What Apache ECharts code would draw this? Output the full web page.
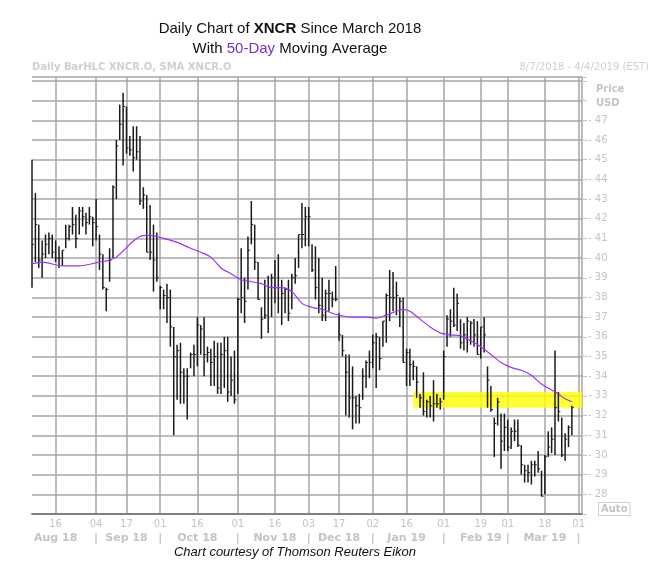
<!DOCTYPE html>
<html>
<head>
<meta charset="UTF-8">
<style>html,body{margin:0;padding:0;background:#fff}#main{width:655px;height:588px}</style>
<script src="https://cdn.jsdelivr.net/npm/echarts@6/dist/echarts.min.js"></script>
</head>
<body>
<div id="main"></div>
<script>
// daily high / low / close, one per trading day from 2018-08-07
var highs = [45.0,43.3,41.7,40.9,41.2,41.3,41.2,40.9,40.6,40.4,41.7,41.7,42.6,42.2,42.6,42.6,42.3,42.6,42.1,43.0,
  41.2,40.2,38.5,40.5,43.7,46.0,47.8,48.4,47.7,46.2,46.7,46.7,46.2,43.6,43.2,42.7,41.7,41.3,38.6,38.4,
  38.7,38.4,36.5,35.6,35.7,34.4,34.4,35.2,35.6,37.0,36.6,37.0,35.5,35.4,35.8,35.7,35.7,36.0,36.0,35.0,
  35.3,38.0,40.5,39.0,41.1,42.9,41.7,39.8,37.5,38.9,39.1,39.2,39.9,40.2,38.9,38.5,38.9,39.2,40.0,41.2,
  42.8,42.6,42.6,40.7,40.6,40.0,39.0,38.4,38.9,38.3,39.6,37.2,36.1,35.1,35.1,34.5,33.0,33.1,34.4,34.8,
  35.3,36.1,36.2,36.0,36.8,38.2,39.4,39.3,38.8,38.0,38.0,35.4,35.4,34.8,34.5,33.1,34.2,32.8,33.0,33.8,
  33.1,32.9,35.3,37.1,37.4,38.5,38.2,36.9,36.7,37.0,36.8,36.9,36.8,36.5,37.0,34.5,33.5,31.9,32.9,32.1,
  32.1,31.8,31.4,31.8,31.8,30.5,29.5,29.5,29.7,29.7,30.2,29.2,30.0,31.2,31.4,35.3,33.2,31.9,31.1,31.5,32.5];
var lows = [38.5,39.8,39.5,39.0,40.0,40.2,40.0,39.8,39.5,39.6,40.5,40.9,41.2,40.5,41.2,41.6,41.2,41.7,40.6,40.9,
  39.4,38.4,37.3,38.8,40.0,43.0,46.0,44.7,45.3,45.2,44.4,45.0,42.7,42.5,40.3,39.9,38.3,38.8,37.4,37.4,
  36.7,35.5,31.0,32.8,32.6,32.6,31.8,34.4,34.0,34.5,35.1,34.0,34.7,33.5,33.5,33.1,33.1,33.4,32.7,33.0,
  32.6,33.1,37.2,36.7,38.4,40.7,39.4,37.9,35.9,36.9,36.2,37.0,37.7,37.2,36.6,37.2,36.8,37.4,38.7,39.5,
  40.5,40.6,40.6,39.3,37.9,37.2,36.8,36.8,37.3,37.5,37.8,35.8,35.0,32.0,31.9,31.3,31.6,31.6,32.8,33.4,
  33.9,34.4,33.4,34.3,35.5,35.7,36.8,37.3,37.1,36.5,34.7,33.5,33.5,33.8,32.9,32.4,32.0,31.9,31.9,31.7,
  32.4,32.3,32.8,35.5,36.0,36.5,36.3,35.4,35.3,35.2,35.6,35.5,35.1,34.9,35.2,32.4,32.2,29.9,31.5,29.3,
  30.2,30.2,30.3,30.7,30.4,29.0,28.6,28.6,28.5,28.9,29.1,27.9,28.0,29.9,30.1,30.0,31.7,29.9,29.7,30.4,31.0];
var closes = [40.7,41.7,39.9,40.2,40.7,41.0,40.3,40.0,40.0,40.4,41.0,41.6,41.7,41.0,42.4,42.1,41.8,42.1,41.8,41.6,
  40.2,38.5,38.4,39.9,43.6,45.7,46.8,47.7,45.6,45.5,45.1,45.4,42.9,43.2,40.3,40.3,39.9,39.0,38.5,38.1,
  38.0,36.5,35.0,35.3,34.2,34.0,34.0,35.1,35.1,36.6,36.4,35.1,35.2,34.7,35.0,33.4,35.1,35.3,33.2,33.8,
  32.8,37.9,38.0,37.8,40.4,41.7,39.8,37.9,36.9,37.1,38.5,39.0,38.5,38.5,38.2,38.4,37.2,39.0,39.1,41.2,
  41.2,42.1,42.1,39.4,38.5,37.6,37.1,38.2,38.2,37.9,37.9,36.1,35.3,34.2,32.9,32.9,32.5,32.4,34.0,34.7,
  34.7,35.7,36.0,34.9,36.8,38.1,38.0,38.0,38.1,37.8,34.7,35.2,34.6,34.5,33.7,32.9,32.2,32.7,32.5,32.6,
  32.6,32.7,35.0,36.9,36.8,36.6,37.7,35.7,36.1,36.8,36.7,36.1,35.1,36.5,36.1,33.8,32.3,31.6,32.7,30.7,
  31.4,30.4,31.2,31.2,30.5,29.5,29.2,29.1,29.5,29.5,29.3,27.9,29.9,30.4,30.8,32.4,32.2,30.0,30.8,31.4,32.4];
// 50-day SMA readings [bar index, value]
var sma = [[0,39.7],[3,39.8],[9,39.6],[14,39.6],[20,39.8],[23,39.9],[25,40.05],[29,40.7],[32,41.1],[35,41.15],
  [39,41.0],[43,40.8],[47,40.5],[50,40.3],[53,40.05],[56,39.5],[59,39.2],[62,38.9],[65,38.8],[68,38.7],
  [71,38.5],[74,38.5],[77,38.3],[80,37.7],[83,37.5],[86,37.4],[89,37.2],[91,37.1],[95,37.0],[99,37.0],
  [102,36.95],[105,37.1],[108,37.3],[110,37.4],[112,37.3],[115,36.9],[118,36.5],[121,36.2],[124,36.1],[127,36.05],
  [130,35.8],[133,35.5],[136,35.1],[139,34.7],[142,34.45],[145,34.3],[148,34.05],[151,33.6],[154,33.3],[156,33.1],
  [158,32.85],[160,32.7]];
var holidays = ['2018-09-03','2018-11-22','2018-12-05','2018-12-25','2019-01-01','2019-01-21','2019-02-18'];
var tickDates = ['2018-08-16','2018-09-04','2018-09-17','2018-10-01','2018-10-16','2018-11-01','2018-11-16','2018-12-03',
  '2018-12-17','2019-01-02','2019-01-16','2019-02-01','2019-02-19','2019-03-01','2019-03-18','2019-04-01'];
var tickDays = ['16','04','17','01','16','01','16','03','17','02','16','01','19','01','18','01'];
var tickMonths = ['Aug 18','|','Sep 18','|','Oct 18','|','Nov 18','|','Dec 18','|','Jan 19','|','Feb 19','|','Mar 19','|'];
var bandLow = 32.4, bandHigh = 33.2, bandStart = 113;

function pad(n){return n<10?'0'+n:''+n;}
var dates = [];
var d = new Date(Date.UTC(2018,7,7));
var end = new Date(Date.UTC(2019,3,2));
while(d <= end){
	var s = d.getUTCFullYear()+'-'+pad(d.getUTCMonth()+1)+'-'+pad(d.getUTCDate());
	var wd = d.getUTCDay();
	if(wd!=0 && wd!=6 && holidays.indexOf(s)<0) dates.push(s);
	d.setUTCDate(d.getUTCDate()+1);
}
var bars = highs.map(function(h,i){return [i,h,lows[i],closes[i]];});
var isTick = function(i){return tickDates.indexOf(dates[i])>=0;};
var grey = '#c4c4c4';
var ttl = {fontFamily:'Liberation Sans',fontSize:15,fill:'#111'};

var option = {
	animation:false,
	graphic:[
		{type:'text',x:290,y:21,style:{align:'center',text:'{n|Daily Chart of }{b|XNCR}{n| Since March 2018}',
			rich:{n:ttl,b:{fontFamily:'Liberation Sans',fontSize:15,fontWeight:'bold',fill:'#111'}}}},
		{type:'text',x:290,y:41,style:{align:'center',text:'{n|With }{p|50-Day}{n| Moving Average}',
			rich:{n:ttl,p:{fontFamily:'Liberation Sans',fontSize:15,fill:'#7b2fd0'}}}},
		{type:'text',left:32,top:62,style:{text:'Daily BarHLC XNCR.O, SMA XNCR.O',fontFamily:'DejaVu Sans',fontSize:10,fontWeight:'bold',fill:'#cfcfcf'}},
		{type:'text',right:6,top:62,style:{text:'8/7/2018 - 4/4/2019 (EST)',fontFamily:'DejaVu Sans',fontSize:10,fill:'#cfcfcf'}},
		{type:'text',left:596,top:82,style:{text:'Price\nUSD',fontFamily:'DejaVu Sans',fontSize:10,fontWeight:'bold',lineHeight:14,fill:'#c4c4c4'}},
		{type:'text',left:598,top:502,style:{text:'Auto',fontFamily:'DejaVu Sans',fontSize:10,fontWeight:'bold',fill:'#c4c4c4',backgroundColor:'#fff',borderColor:'#d0d0d0',borderWidth:1,padding:[1,2]}},
		{type:'text',x:295,y:546,style:{align:'center',text:'Chart courtesy of Thomson Reuters Eikon',fontFamily:'Liberation Sans',fontSize:13,fontStyle:'italic',fill:'#111'}}
	],
	grid:{left:32,right:73,top:77,bottom:74},
	xAxis:{
		type:'category',data:dates,boundaryGap:false,
		axisLine:{lineStyle:{color:'#808080',width:2}},
		axisTick:{show:false},
		axisLabel:{interval:function(i){return isTick(i);},color:grey,fontFamily:'DejaVu Sans',fontSize:10,margin:4,
			formatter:function(v){var k=tickDates.indexOf(v);return '{d|'+tickDays[k]+'}\n{m|'+tickMonths[k]+'}';},
			rich:{d:{color:grey,fontSize:10,lineHeight:13},m:{color:grey,fontSize:11,fontWeight:'bold',lineHeight:15}}},
		splitLine:{show:true,interval:function(i){return isTick(i);},lineStyle:{color:'#a6a6a6',width:1.5}}
	},
	yAxis:{
		type:'value',position:'right',min:27,max:49.2,interval:1,
		axisLine:{show:true,lineStyle:{color:'#a6a6a6',width:1.5}},
		axisTick:{show:true,length:5,lineStyle:{color:'#c4c4c4'}},
		axisLabel:{color:grey,fontFamily:'DejaVu Sans',fontSize:10,margin:6,
			formatter:function(v){return (v>=28 && v<=47)?'- '+v:'';}},
		splitLine:{lineStyle:{color:'#a6a6a6',width:1.5}}
	},
	series:[
		{type:'custom',data:bars,encode:{x:0,y:[1,2,3]},z:3,
			renderItem:function(params,api){
				var x=api.value(0);
				var h=api.coord([x,api.value(1)]),l=api.coord([x,api.value(2)]),c=api.coord([x,api.value(3)]);
				return {type:'group',children:[
					{type:'line',shape:{x1:h[0],y1:h[1],x2:l[0],y2:l[1]},style:{stroke:'#1a1a1a',lineWidth:1.5}},
					{type:'line',shape:{x1:c[0],y1:c[1],x2:c[0]+2,y2:c[1]},style:{stroke:'#1a1a1a',lineWidth:1}}
				]};
			},
			markArea:{silent:true,itemStyle:{color:'#ffff00',opacity:0.8},
				data:[[{xAxis:bandStart,yAxis:bandHigh},{xAxis:dates.length-1,yAxis:bandLow}]]}
		},
		{type:'line',data:sma,smooth:0.3,showSymbol:false,z:4,lineStyle:{color:'#9b30ff',width:1.2}}
	]
};
echarts.init(document.getElementById('main')).setOption(option);
</script>
</body>
</html>
